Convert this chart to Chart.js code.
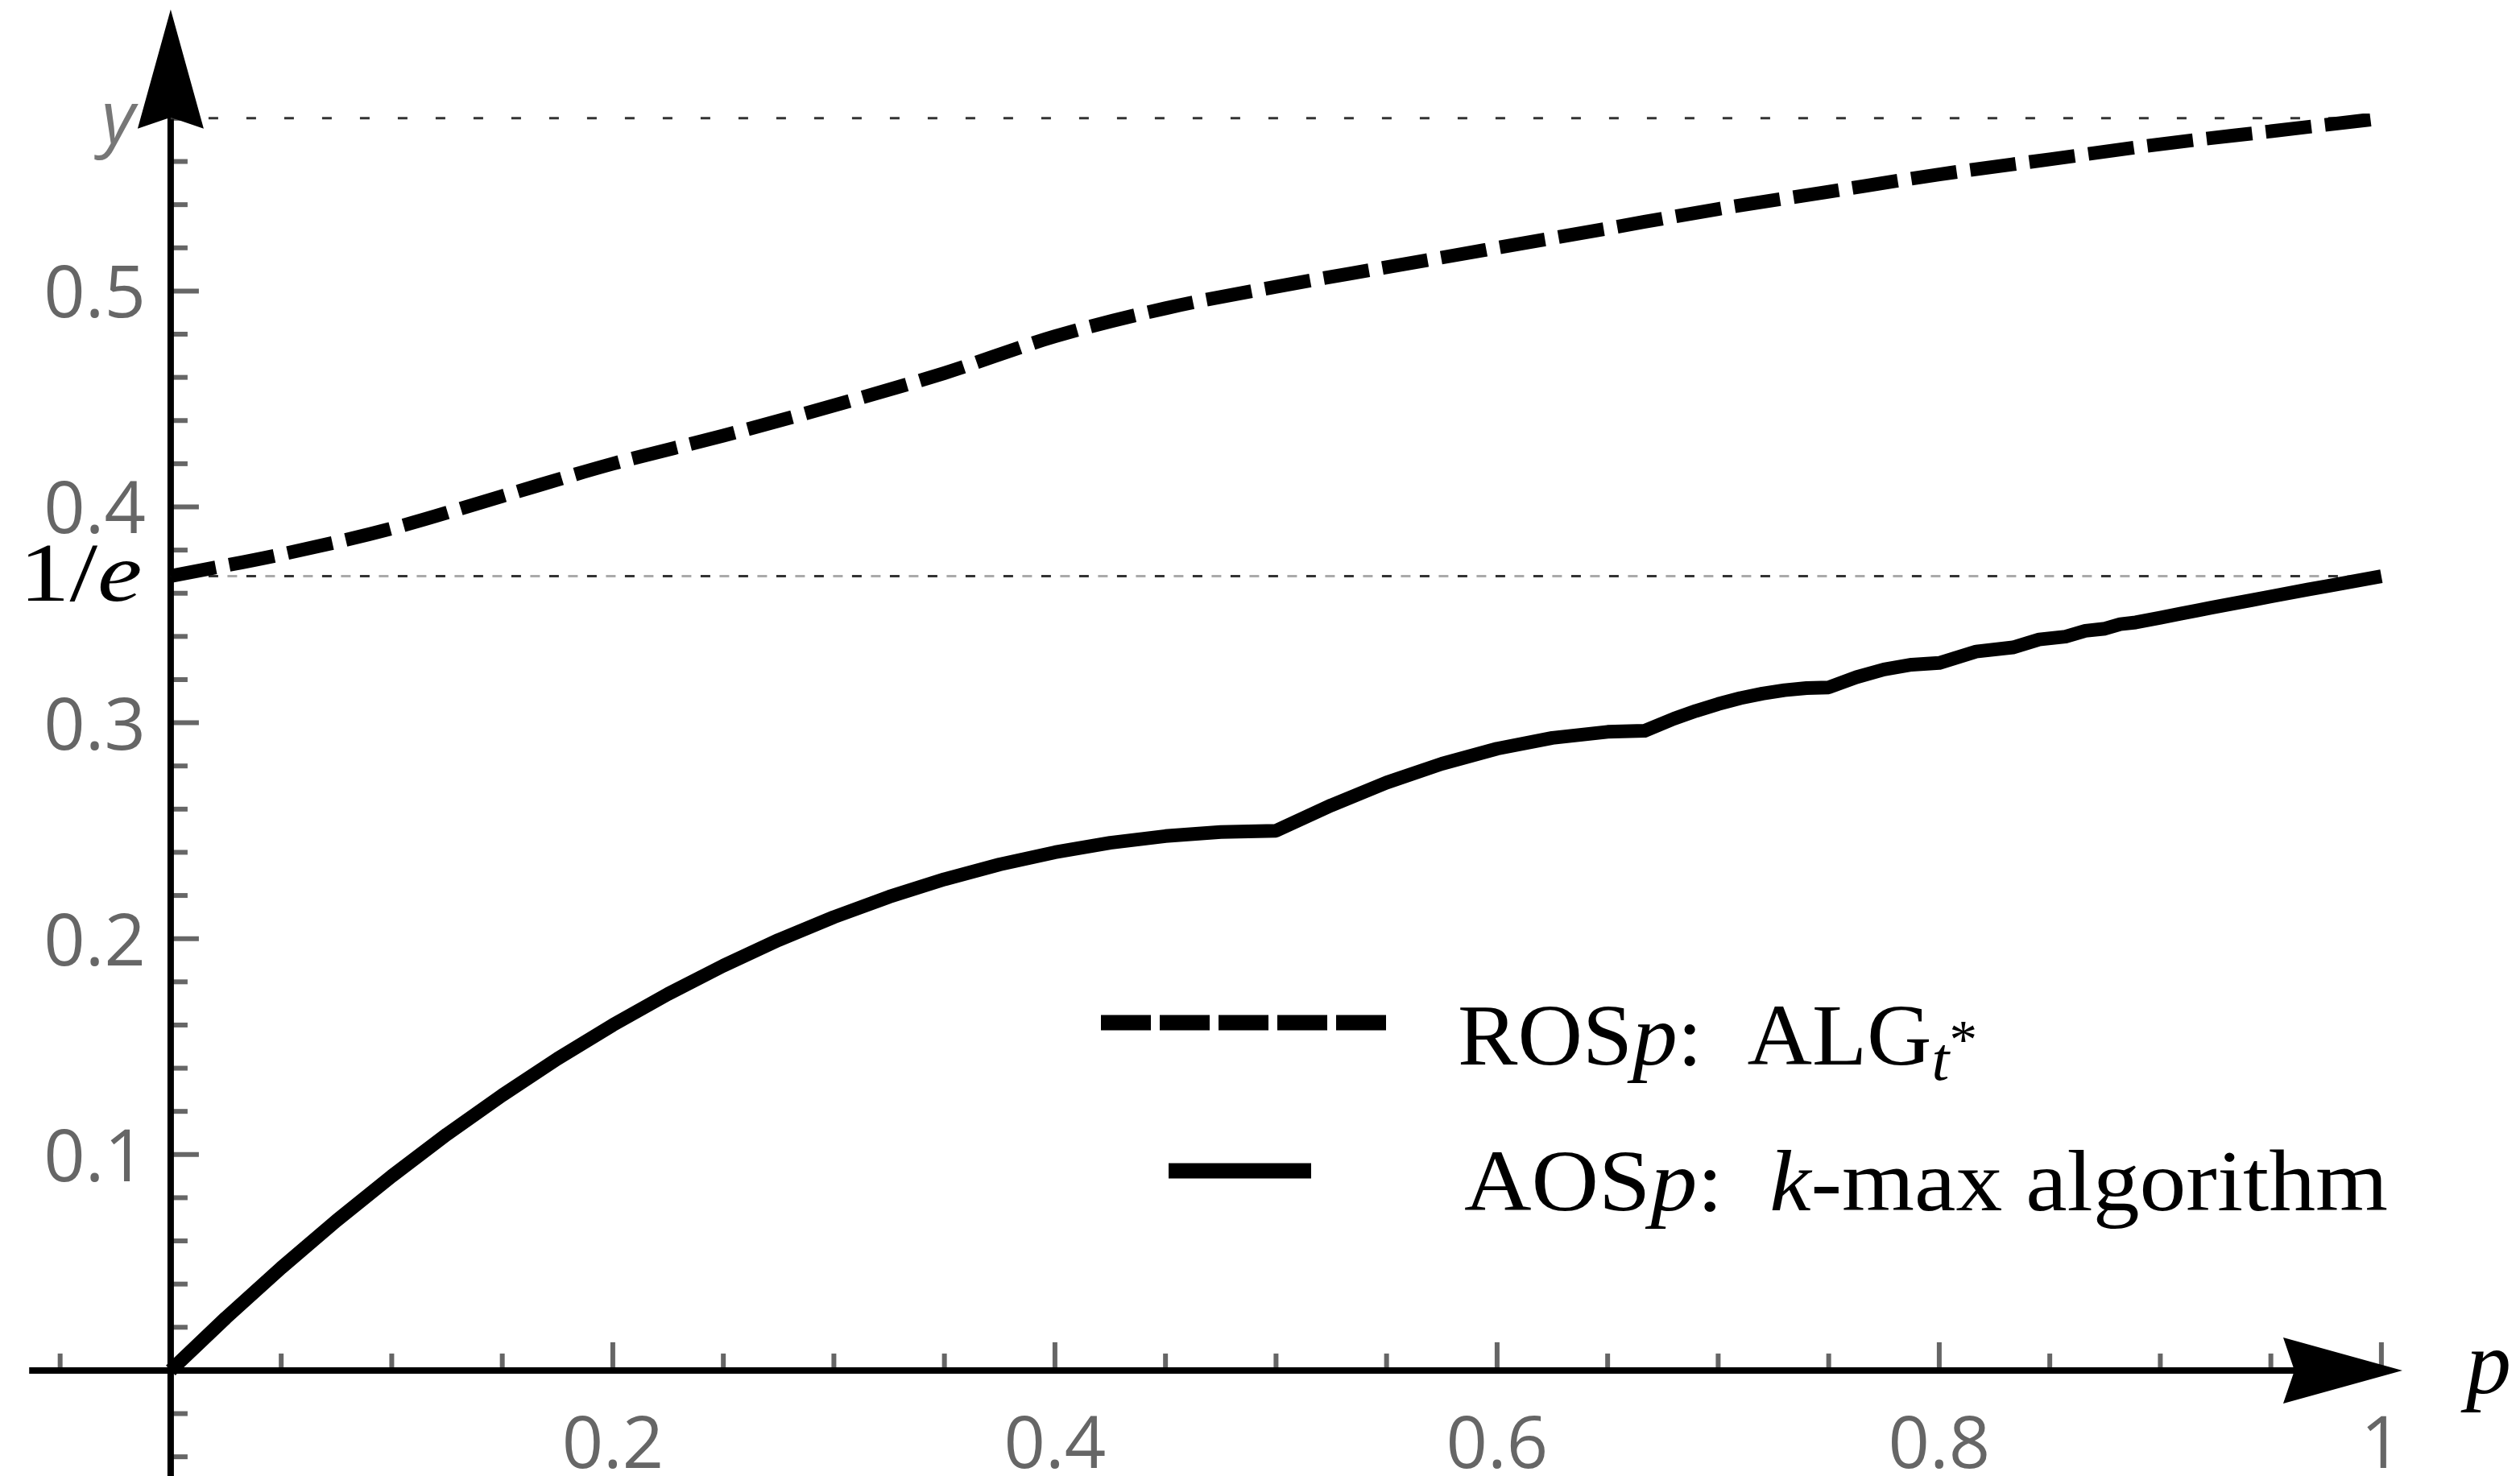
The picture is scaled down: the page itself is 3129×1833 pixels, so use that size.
<!DOCTYPE html>
<html>
<head>
<meta charset="utf-8">
<script src="https://cdn.jsdelivr.net/npm/chart.js@4.4.1/dist/chart.umd.min.js"></script>
<style>
  html, body { margin: 0; padding: 0; background: #fff; }
  #wrap { width: 3129px; height: 1833px; }
</style>
</head>
<body>
<div id="wrap"><canvas id="grafico" width="3129" height="1833"></canvas></div>
<script>
// valores
const pRos = [0, 0.05, 0.1, 0.15, 0.2, 0.25, 0.3, 0.35, 0.4, 0.45, 0.5, 0.55, 0.6, 0.65, 0.7, 0.75, 0.8, 0.85, 0.9, 0.95, 1];
const yRos = [0.368, 0.378, 0.390, 0.405, 0.420, 0.433, 0.447, 0.462, 0.479, 0.492, 0.502, 0.511, 0.520, 0.529, 0.538, 0.546, 0.554, 0.561, 0.568, 0.574, 0.580];

const pAos = [0, 0.025, 0.05, 0.075, 0.1, 0.125, 0.15, 0.175, 0.2, 0.225, 0.25, 0.275, 0.3, 0.325, 0.35, 0.375, 0.4, 0.425, 0.45, 0.475, 0.5,
              0.525, 0.55, 0.575, 0.6, 0.625, 0.65, 0.6667,
              0.68, 0.69, 0.7, 0.71, 0.72, 0.73, 0.74, 0.75,
              0.7625, 0.775, 0.7875, 0.8, 0.8167, 0.8333, 0.8452, 0.8571, 0.8661, 0.875, 0.8819, 0.8889,
              0.9, 0.9091, 0.9167, 0.9231, 0.9333, 0.9412, 0.95, 0.9667, 0.975, 1];
const yAos = [0, 0.0244, 0.0475, 0.0694, 0.0900, 0.1094, 0.1275, 0.1444, 0.1600, 0.1744, 0.1875, 0.1994, 0.2100, 0.2194, 0.2275, 0.2344, 0.2400, 0.2444, 0.2475, 0.2494, 0.2500,
              0.2618, 0.2723, 0.2810, 0.2880, 0.2930, 0.2958, 0.2963,
              0.3019, 0.3055, 0.3087, 0.3114, 0.3135, 0.3151, 0.3161, 0.3164,
              0.3211, 0.3247, 0.3269, 0.3277, 0.3330, 0.3349, 0.3386, 0.3399, 0.3426, 0.3436, 0.3457, 0.3465,
              0.3487, 0.3505, 0.3520, 0.3533, 0.3553, 0.3568, 0.3585, 0.3617, 0.3632, 0.3679];

const refX = [0, 1];
const refY = 0.5801;      // línea punteada superior (y)
const refE = 0.3679;      // 1/e

const xTickVals = [0.2, 0.4, 0.6, 0.8, 1];
const xTickLabels = ['0.2', '0.4', '0.6', '0.8', '1'];
const yTickVals = [0.1, 0.2, 0.3, 0.4, 0.5];
const yTickLabels = ['0.1', '0.2', '0.3', '0.4', '0.5'];

// leyenda: [texto, estilo]  n = normal, i = itálica, s = subíndice itálico, u = asterisco del subíndice
const leyendaRos = [['ROS', 'n'], ['p', 'i'], [':  ALG', 'n'], ['t', 's'], ['*', 'u']];
const leyendaAos = [['AOS', 'n'], ['p', 'i'], [':  ', 'n'], ['k', 'i'], ['-max algorithm', 'n']];

const puntos = (xs, ys) => xs.map((v, i) => ({ x: v, y: ys[i] }));

function flecha(ctx, tx, ty, dx, dy) {
    const L = 148, W = 41, N = 14;
    const nx = -dy, ny = dx;
    const bx = tx - dx * L, by = ty - dy * L;
    ctx.beginPath();
    ctx.moveTo(tx, ty);
    ctx.lineTo(bx + nx * W, by + ny * W);
    ctx.quadraticCurveTo(bx + dx * N * 0.6 + nx * W * 0.4, by + dy * N * 0.6 + ny * W * 0.4, bx + dx * N, by + dy * N);
    ctx.quadraticCurveTo(bx + dx * N * 0.6 - nx * W * 0.4, by + dy * N * 0.6 - ny * W * 0.4, bx - nx * W, by - ny * W);
    ctx.closePath();
    ctx.fill();
}

function textoRico(ctx, partes, x0, base, size, ancho) {
    const fuente = (st) => {
        if (st === 'n') return size + 'px "Liberation Serif"';
        if (st === 'i') return 'italic ' + size + 'px "Liberation Serif"';
        if (st === 's') return 'italic ' + Math.round(size * 0.7) + 'px "Liberation Serif"';
        return Math.round(size * 0.62) + 'px "Liberation Serif"';
    };
    let total = 0;
    partes.forEach(([t, st]) => { ctx.font = fuente(st); total += ctx.measureText(t).width; });
    const k = ancho / total;
    ctx.save();
    ctx.translate(x0, base);
    ctx.scale(k, 1);
    let cx = 0;
    partes.forEach(([t, st]) => {
        ctx.font = fuente(st);
        let dy = 0;
        if (st === 's') dy = size * 0.18;
        if (st === 'u') dy = -size * 0.08;
        ctx.fillText(t, cx, dy);
        cx += ctx.measureText(t).width;
    });
    ctx.restore();
}

const ejes = {
    id: 'ejes',
    beforeDatasetsDraw(chart) {
        const { ctx, scales: { x, y } } = chart;
        const x0 = x.getPixelForValue(0), y0 = y.getPixelForValue(0);
        ctx.save();
        ctx.strokeStyle = '#666';
        ctx.lineWidth = 6;
        // marcas del eje p (cada 0.05)
        for (let i = -1; i <= 20; i++) {
            const px = x.getPixelForValue(i * 0.05);
            const len = (i > 0 && i % 4 === 0) ? 35 : 21;
            ctx.beginPath(); ctx.moveTo(px, y0); ctx.lineTo(px, y0 - len); ctx.stroke();
        }
        // marcas del eje y (cada 0.02)
        for (let i = -3; i <= 29; i++) {
            if (i === 0) continue;
            const py = y.getPixelForValue(i * 0.02);
            const len = (i > 0 && i % 5 === 0) ? 35 : 21;
            ctx.beginPath(); ctx.moveTo(x0, py); ctx.lineTo(x0 + len, py); ctx.stroke();
        }
        // ejes
        ctx.strokeStyle = '#000';
        ctx.lineWidth = 8;
        ctx.beginPath();
        ctx.moveTo(x.getPixelForValue(-0.064), y0);
        ctx.lineTo(x.getPixelForValue(1.0095) - 100, y0);
        ctx.moveTo(x0, chart.height);
        ctx.lineTo(x0, y.getPixelForValue(0.6304) + 100);
        ctx.stroke();
        ctx.restore();
    },
    afterDatasetsDraw(chart) {
        const { ctx, scales: { x, y } } = chart;
        const x0 = x.getPixelForValue(0), y0 = y.getPixelForValue(0);
        ctx.save();
        ctx.fillStyle = '#000';
        flecha(ctx, x.getPixelForValue(1.0095), y0, 1, 0);
        flecha(ctx, x0, y.getPixelForValue(0.6304), 0, -1);

        // etiquetas de las marcas
        ctx.fillStyle = '#666';
        ctx.font = '90px "Open Sans"';
        ctx.textAlign = 'center';
        ctx.textBaseline = 'alphabetic';
        xTickVals.forEach((v, i) => ctx.fillText(xTickLabels[i], x.getPixelForValue(v), 1823));
        ctx.textAlign = 'right';
        yTickVals.forEach((v, i) => ctx.fillText(yTickLabels[i], x0 - 31, y.getPixelForValue(v) + 33));

        // y
        ctx.textAlign = 'left';
        ctx.fillStyle = '#777';
        ctx.font = 'italic 90px "Open Sans"';
        ctx.fillText('y', 126, 177);

        // 1/e
        ctx.fillStyle = '#000';
        ctx.save();
        ctx.translate(24, y.getPixelForValue(refE) + 30);
        ctx.scale(1.2, 1);
        ctx.font = '104px "Liberation Serif"';
        ctx.fillText('1/', 0, 0);
        const w1 = ctx.measureText('1/').width;
        ctx.font = 'italic 104px "Liberation Serif"';
        ctx.fillText('e', w1, 0);
        ctx.restore();

        // p
        ctx.font = 'italic 112px "Liberation Serif"';
        ctx.fillText('p', 3062, 1730);

        // leyenda
        ctx.strokeStyle = '#000';
        ctx.lineCap = 'butt';
        ctx.lineWidth = 19;
        ctx.setLineDash([62, 11]);
        ctx.beginPath(); ctx.moveTo(1367, 1270); ctx.lineTo(1721, 1270); ctx.stroke();
        ctx.setLineDash([]);
        ctx.beginPath(); ctx.moveTo(1451, 1454); ctx.lineTo(1628, 1454); ctx.stroke();
        textoRico(ctx, leyendaRos, 1810, 1322, 108, 645);
        textoRico(ctx, leyendaAos, 1818, 1503, 108, 1147);
        ctx.restore();
    }
};

new Chart(document.getElementById('grafico').getContext('2d'), {
    type: 'line',
    data: {
        datasets: [
            {
                label: 'ROSp: ALGt*',
                data: puntos(pRos, yRos),
                borderColor: '#000',
                borderWidth: 17,
                borderDash: [57, 17],
                borderCapStyle: 'butt',
                cubicInterpolationMode: 'monotone',
                pointRadius: 0,
                fill: false
            },
            {
                label: 'AOSp: k-max algorithm',
                data: puntos(pAos, yAos),
                borderColor: '#000',
                borderWidth: 17,
                borderJoinStyle: 'round',
                tension: 0,
                pointRadius: 0,
                fill: false
            },
            {
                label: 'y',
                data: puntos([refX[0], 0.985], [refY, refY]),
                borderColor: '#333',
                borderWidth: 3,
                borderDash: [12, 35],
                pointRadius: 0,
                fill: false
            },
            {
                label: '1/e',
                data: puntos(refX, [refE, refE]),
                borderColor: '#333',
                borderWidth: 3,
                borderDash: [12, 35],
                pointRadius: 0,
                fill: false
            },
            {
                label: '1/e claro',
                data: puntos(refX, [refE, refE]),
                borderColor: '#aaa',
                borderWidth: 3,
                borderDash: [12, 35],
                borderDashOffset: -23.5,
                pointRadius: 0,
                fill: false
            }
        ]
    },
    options: {
        responsive: false,
        animation: false,
        devicePixelRatio: 1,
        layout: { padding: 0 },
        plugins: {
            legend: { display: false },
            tooltip: { enabled: false }
        },
        scales: {
            x: { type: 'linear', min: -0.0772, max: 1.0627, display: false },
            y: { type: 'linear', min: -0.0489, max: 0.6348, display: false }
        }
    },
    plugins: [ejes]
});
</script>
</body>
</html>
